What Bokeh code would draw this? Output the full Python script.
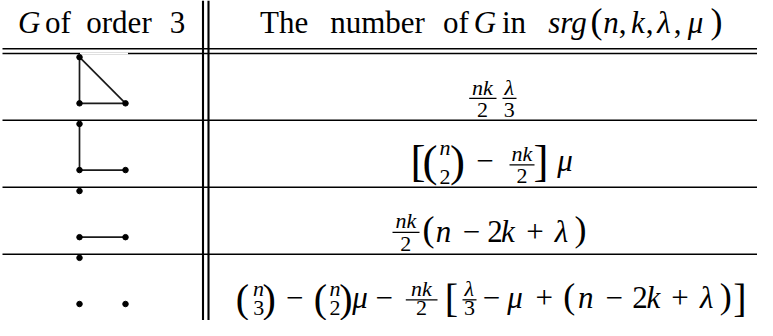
from bokeh.plotting import figure
from bokeh.models import Range1d, ColumnDataSource
from bokeh.core.properties import value
from bokeh.embed import file_html
from bokeh.resources import INLINE

# ---------------- data ----------------
# column headers: (text, style, x-centre)
header_left = [("G", "MI", 36.7), ("of", "M", 65.5), ("order", "M", 126.5), ("3", "M", 185.0)]
header_right = [("The", "M", 291.7), ("number", "M", 385.0), ("of", "M", 463.3),
                ("G", "MI", 492.5), ("in", "M", 521.5), ("srg", "MI", 575.0),
                ("(", "P", 604.0), ("n", "MI", 618.5), (",", "M", 630.0),
                ("k", "MI", 645.5), (",", "M", 657.0), ("λ", "MI", 671.5),
                (",", "M", 685.0), ("μ", "MI", 703.0), (")", "P", 724.0)]
header_baseline = 41.0

# graphs G of order 3: vertices a (top), b (bottom-left), c (bottom-right)
graph_vertices = {"a": (0, 0), "b": (0, 1), "c": (1, 1)}
graph_edges = [
    [("a", "b"), ("b", "c"), ("a", "c")],   # triangle
    [("a", "b"), ("b", "c")],               # path
    [("b", "c")],                           # edge + isolated vertex
    [],                                     # empty graph
]

# formulas: (text, style, x-centre, baseline)
formula_rows = [
    [("nk", "SI", 490.0, 105.0), ("2", "S", 490.0, 127.7),
     ("λ", "SI", 516.7, 105.0), ("3", "S", 516.7, 128.0)],
    [("[", "D", 425.5, 188.0), ("(", "D", 437.5, 188.5), ("n", "SI", 452.5, 166.0),
     ("2", "S", 452.5, 197.0), (")", "D", 465.0, 188.5), ("−", "M", 492.5, 182.5),
     ("nk", "SI", 529.5, 172.5), ("2", "S", 529.5, 196.0), ("]", "D", 548.5, 188.0),
     ("μ", "MI", 572.5, 182.5)],
    [("nk", "SI", 413.3, 241.5), ("2", "S", 413.3, 265.0), ("(", "P", 436.0, 255.0),
     ("n", "MI", 451.0, 255.0), ("−", "M", 479.0, 255.0), ("2", "M", 502.5, 255.0),
     ("k", "MI", 515.5, 255.0), ("+", "M", 542.5, 255.0), ("λ", "MI", 569.0, 255.0),
     (")", "P", 588.0, 255.0)],
    [("(", "DL", 250.0, 327.0), ("n", "SI", 266.0, 310.3), ("3", "S", 266.3, 331.0),
     (")", "DL", 276.7, 327.0), ("−", "M", 302.3, 323.0), ("(", "DL", 328.0, 327.0),
     ("n", "SI", 342.5, 310.3), ("2", "S", 342.5, 331.0), (")", "DL", 353.3, 327.0),
     ("μ", "MI", 367.5, 323.0), ("−", "M", 391.7, 323.0), ("nk", "SI", 429.0, 310.3),
     ("2", "S", 429.0, 331.0), ("[", "DL", 459.0, 327.0), ("λ", "SI", 476.7, 310.3),
     ("3", "S", 477.0, 331.0), ("−", "M", 499.0, 323.0), ("μ", "MI", 522.5, 323.0),
     ("+", "M", 551.7, 323.0), ("(", "P", 576.7, 323.0), ("n", "MI", 593.3, 323.0),
     ("−", "M", 621.7, 323.0), ("2", "M", 647.5, 323.0), ("k", "MI", 660.8, 323.0),
     ("+", "M", 687.5, 323.0), ("λ", "MI", 714.2, 323.0), (")", "P", 733.3, 323.0),
     ("]", "DL", 747.5, 327.0)],
]
# fraction bars: (x-start, x-end, y)
fraction_bars = [(476.7, 504.0, 108.3), (510.0, 524.0, 108.3),
                 (517.0, 542.0, 176.5),
                 (400.0, 427.0, 245.7),
                 (413.3, 445.0, 314.8), (470.0, 484.0, 314.8)]

# ---------------- layout ----------------
hlines_y = [57.5, 62.3, 130.7, 199.5, 268.0]
vlines_x = [210.5, 216.0]
row_tops = [62.3, 130.7, 199.5, 268.0]
gx0, gdx, gtop, gdy = 87.0, 46.0, 3.8, 47.3

styles = {
    "M": (31, "normal"), "MI": (31, "italic"),
    "S": (22, "normal"), "SI": (22, "italic"),
    "P": (36, "normal"), "D": (45, "normal"), "DL": (40, "normal"),
}
MID = 0.3375  # centre of the em box above the baseline (Liberation Serif)

p = figure(width=757, height=320, x_range=Range1d(8, 765), y_range=Range1d(336, 8),
           output_backend="svg", toolbar_location=None, min_border=0)
p.axis.visible = False
p.grid.visible = False
p.outline_line_color = None
p.background_fill_color = "white"
p.border_fill_color = "white"

# table rules
p.segment(x0=[10.0] * len(hlines_y), x1=[780.0] * len(hlines_y), y0=hlines_y, y1=hlines_y,
          line_color="black", line_width=1.5)
p.segment(x0=vlines_x, x1=vlines_x, y0=[8.0] * len(vlines_x), y1=[340.0] * len(vlines_x),
          line_color="black", line_width=2.1)
# white background of the first drawing over the lower header rule
p.segment(x0=[87.5], x1=[135.5], y0=[62.3], y1=[62.3], line_color="white", line_width=2.2)

# graphs
ex0, ex1, ey0, ey1, vx, vy = [], [], [], [], [], []
for top, edges in zip(row_tops, graph_edges):
    pos = {k: (gx0 + u * gdx, top + gtop + v * gdy) for k, (u, v) in graph_vertices.items()}
    for a, b in edges:
        ex0.append(pos[a][0]); ey0.append(pos[a][1])
        ex1.append(pos[b][0]); ey1.append(pos[b][1])
    for k in graph_vertices:
        vx.append(pos[k][0]); vy.append(pos[k][1])
p.segment(x0=ex0, y0=ey0, x1=ex1, y1=ey1, line_color="#1a1a1a", line_width=1.7)
p.scatter(x=vx, y=vy, size=5.5, color="black")

# fraction bars
p.segment(x0=[b[0] for b in fraction_bars], x1=[b[1] for b in fraction_bars],
          y0=[b[2] for b in fraction_bars], y1=[b[2] for b in fraction_bars],
          line_color="black", line_width=1.3)

# texts
pieces = []
for t, s, x in header_left + header_right:
    pieces.append((t, s, x, header_baseline))
for row in formula_rows:
    pieces.extend(row)

for s, (size, fstyle) in styles.items():
    sel = [pc for pc in pieces if pc[1] == s]
    if not sel:
        continue
    src = ColumnDataSource(dict(x=[pc[2] for pc in sel], y=[pc[3] for pc in sel],
                                text=[pc[0] for pc in sel]))
    p.text(x="x", y="y", text="text", source=src, text_font=value("Liberation Serif"),
           text_font_size=value(f"{size}px"), text_font_style=fstyle,
           text_align="center", text_baseline="middle", y_offset=-MID * size,
           text_color="black")

open("out.html", "w").write(file_html(p, INLINE))
